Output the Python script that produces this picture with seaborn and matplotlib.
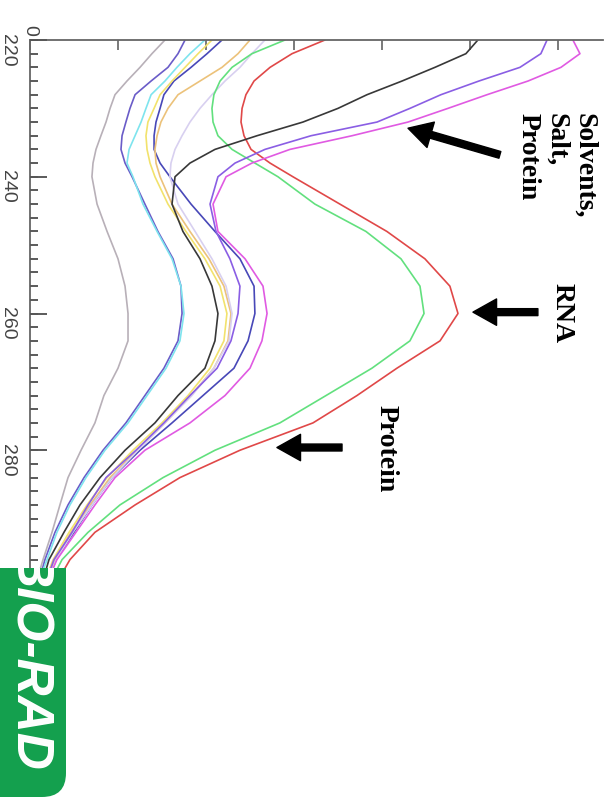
import matplotlib
matplotlib.use("Agg")
import matplotlib.pyplot as plt
from matplotlib.patches import FancyBboxPatch
from matplotlib.ticker import MultipleLocator, FixedLocator, FixedFormatter
import pandas as pd
import seaborn as sns

# Wavelength grid (nm) shared by all spectra
wavelength = [220, 222, 224, 226, 228, 230, 232, 234, 236, 238, 240, 244, 248,
              252, 256, 260, 264, 268, 272, 276, 280, 284, 288, 292, 296, 298]

# Absorbance of each sample along the grid
gray = [0.767, 0.693, 0.625, 0.551, 0.483, 0.455, 0.432, 0.403, 0.375, 0.358, 0.352, 0.381, 0.438,
        0.500, 0.540, 0.557, 0.557, 0.500, 0.420, 0.369, 0.290, 0.216, 0.170, 0.125, 0.074, 0.051]
slate = [0.881, 0.841, 0.784, 0.688, 0.597, 0.568, 0.545, 0.523, 0.517, 0.540, 0.580, 0.653, 0.727,
         0.813, 0.858, 0.864, 0.841, 0.761, 0.653, 0.545, 0.415, 0.307, 0.216, 0.142, 0.085, 0.063]
cyan = [0.994, 0.909, 0.835, 0.767, 0.688, 0.659, 0.631, 0.597, 0.563, 0.551, 0.585, 0.642, 0.722,
        0.807, 0.858, 0.875, 0.852, 0.773, 0.665, 0.557, 0.426, 0.318, 0.227, 0.153, 0.097, 0.068]
navy = [1.091, 1.006, 0.915, 0.818, 0.761, 0.739, 0.716, 0.705, 0.705, 0.739, 0.795, 0.915, 1.051,
        1.193, 1.273, 1.278, 1.239, 1.159, 0.983, 0.807, 0.625, 0.466, 0.352, 0.250, 0.148, 0.119]
yellow = [1.034, 0.955, 0.881, 0.807, 0.739, 0.705, 0.670, 0.659, 0.665, 0.682, 0.710, 0.784, 0.886,
          0.994, 1.080, 1.119, 1.102, 1.023, 0.898, 0.750, 0.585, 0.438, 0.324, 0.222, 0.131, 0.102]
tan = [1.250, 1.182, 1.091, 0.966, 0.841, 0.784, 0.744, 0.722, 0.710, 0.716, 0.739, 0.807, 0.909,
       1.017, 1.102, 1.142, 1.125, 1.045, 0.915, 0.767, 0.608, 0.455, 0.341, 0.233, 0.142, 0.114]
lavender = [1.335, 1.261, 1.193, 1.108, 1.034, 0.966, 0.909, 0.864, 0.824, 0.801, 0.795, 0.841, 0.938,
            1.034, 1.114, 1.148, 1.131, 1.045, 0.920, 0.767, 0.614, 0.466, 0.352, 0.244, 0.148, 0.119]
green = [1.449, 1.261, 1.148, 1.080, 1.045, 1.034, 1.040, 1.068, 1.148, 1.278, 1.409, 1.619, 1.909,
         2.108, 2.216, 2.239, 2.159, 1.943, 1.682, 1.420, 1.051, 0.756, 0.511, 0.330, 0.182, 0.142]
red = [1.676, 1.489, 1.364, 1.273, 1.227, 1.205, 1.199, 1.216, 1.256, 1.364, 1.494, 1.761, 2.028,
       2.244, 2.386, 2.432, 2.330, 2.085, 1.858, 1.608, 1.193, 0.852, 0.597, 0.369, 0.227, 0.182]
black = [2.545, 2.477, 2.301, 2.114, 1.915, 1.750, 1.551, 1.290, 1.051, 0.909, 0.824, 0.807, 0.869,
         0.966, 1.034, 1.068, 1.051, 0.994, 0.841, 0.710, 0.540, 0.398, 0.284, 0.193, 0.108, 0.085]
violet = [2.938, 2.903, 2.784, 2.551, 2.335, 2.159, 1.972, 1.597, 1.335, 1.165, 1.068, 1.023, 1.057,
          1.136, 1.193, 1.182, 1.142, 1.063, 0.909, 0.761, 0.602, 0.432, 0.330, 0.239, 0.136, 0.108]
magenta = [3.085, 3.125, 3.017, 2.830, 2.597, 2.375, 2.148, 1.830, 1.477, 1.261, 1.114, 1.040, 1.068,
           1.222, 1.324, 1.347, 1.318, 1.250, 1.108, 0.909, 0.653, 0.483, 0.369, 0.261, 0.153, 0.119]

samples = {
    "gray": gray, "slate": slate, "cyan": cyan, "navy": navy, "yellow": yellow,
    "tan": tan, "lavender": lavender, "green": green, "red": red,
    "black": black, "violet": violet, "magenta": magenta,
}
palette = {
    "gray": "#b8b0b8", "slate": "#6a5cc8", "cyan": "#7ee4ee", "navy": "#4848b8",
    "yellow": "#f2e26c", "tan": "#ecc27a", "lavender": "#d8d0f0", "green": "#62e07e",
    "red": "#e04848", "black": "#383838", "violet": "#8a5ee4", "magenta": "#e05ae2",
}

y_major = [220, 240, 260, 280]
y_major_labels = ["220", "240", "260", "280"]
y_minor = list(range(220, 301, 2))
x_ticks = [0.0, 0.5, 1.0, 1.5, 2.0, 2.5, 3.0]
x_tick_labels = ["0", "", "", "", "", "", ""]

rows = []
for name, values in samples.items():
    for wl, a in zip(wavelength, values):
        rows.append({"sample": name, "wavelength": wl, "absorbance": a})
df = pd.DataFrame(rows)

sns.set_style("white")
plt.rcParams["font.family"] = ["Liberation Sans", "DejaVu Sans"]

fig = plt.figure(figsize=(6.11, 8.0), dpi=100)
ax = fig.add_axes([30 / 611, 1 - 587 / 800, 573 / 611, 547 / 800])

sns.lineplot(data=df, x="absorbance", y="wavelength", hue="sample", palette=palette,
             sort=False, estimator=None, legend=False, linewidth=1.2, ax=ax)

ax.set_xlim(0, 3.256)
ax.set_ylim(300, 220)
ax.set_xlabel("")
ax.set_ylabel("")

# Wavelength labels on the left
ax.yaxis.set_ticks_position("left")
ax.yaxis.set_major_locator(FixedLocator(y_major))
ax.yaxis.set_major_formatter(FixedFormatter(y_major_labels))
ax.yaxis.set_minor_locator(MultipleLocator(2))
ax.tick_params(axis="y", which="major", left=True, right=False, direction="in",
               length=12, width=1.1, color="#555555", labelsize=14,
               labelcolor="#444444", labelrotation=-90, pad=10)
ax.tick_params(axis="y", which="minor", left=True, right=False, direction="in",
               length=6, width=1.1, color="#555555")

# Inward tick marks along the wavelength spine (axes-fraction lengths)
ytick_tf = ax.get_yaxis_transform()
ax.hlines(y_minor, 0, 0.014, transform=ytick_tf, colors="#555555",
          linewidth=1.1, clip_on=False, zorder=4)
ax.hlines(y_major, 0, 0.029, transform=ytick_tf, colors="#555555",
          linewidth=1.1, clip_on=False, zorder=4)

# Absorbance axis along the top
ax.xaxis.set_ticks_position("top")
ax.xaxis.set_major_locator(FixedLocator(x_ticks))
ax.xaxis.set_major_formatter(FixedFormatter(x_tick_labels))
ax.tick_params(axis="x", which="major", top=True, bottom=False, labeltop=True,
               labelbottom=False, direction="in", length=7, width=1.1,
               color="#555555", labelsize=14, labelcolor="#444444",
               labelrotation=-90, pad=3)

for side in ("right", "bottom"):
    ax.spines[side].set_visible(False)
for side in ("top", "left"):
    ax.spines[side].set_color("#666666")
    ax.spines[side].set_linewidth(1.3)

# Annotations
serif = dict(family=["Liberation Serif", "DejaVu Serif"], weight="bold", size=20,
             color="black", rotation=-90)
ax.text(2.99, 230.7, "Solvents,\nSalt,\nProtein", ha="center", va="top",
        multialignment="left", linespacing=1.15, **serif)
ax.text(3.023, 255.5, "RNA", ha="center", va="top", **serif)
ax.text(2.023, 273.4, "Protein", ha="center", va="top", **serif)

arrow = dict(facecolor="black", edgecolor="black", width=5, headwidth=19,
             headlength=17, shrink=0)
ax.annotate("", xy=(2.148, 232.9), xytext=(2.67, 236.8), arrowprops=arrow)
ax.annotate("", xy=(2.517, 259.8), xytext=(2.886, 259.8), arrowprops=arrow)
ax.annotate("", xy=(1.403, 279.6), xytext=(1.773, 279.6), arrowprops=arrow)

# Corner logo
lax = fig.add_axes([0, 0, 66 / 611, 232 / 800], zorder=10)
lax.set_xlim(0, 66)
lax.set_ylim(800, 568)
lax.axis("off")
badge = FancyBboxPatch((-40, 500), 106, 297, boxstyle="round,pad=0,rounding_size=24",
                       facecolor="#14a04e", edgecolor="none")
lax.add_patch(badge)
lax.text(29, 660, "BIO-RAD", ha="center", va="center", rotation=-90, color="white",
         family=["Liberation Sans", "DejaVu Sans"], weight="bold", style="italic",
         size=37, clip_on=True)

fig.savefig("out.png", dpi=100, facecolor="white")
